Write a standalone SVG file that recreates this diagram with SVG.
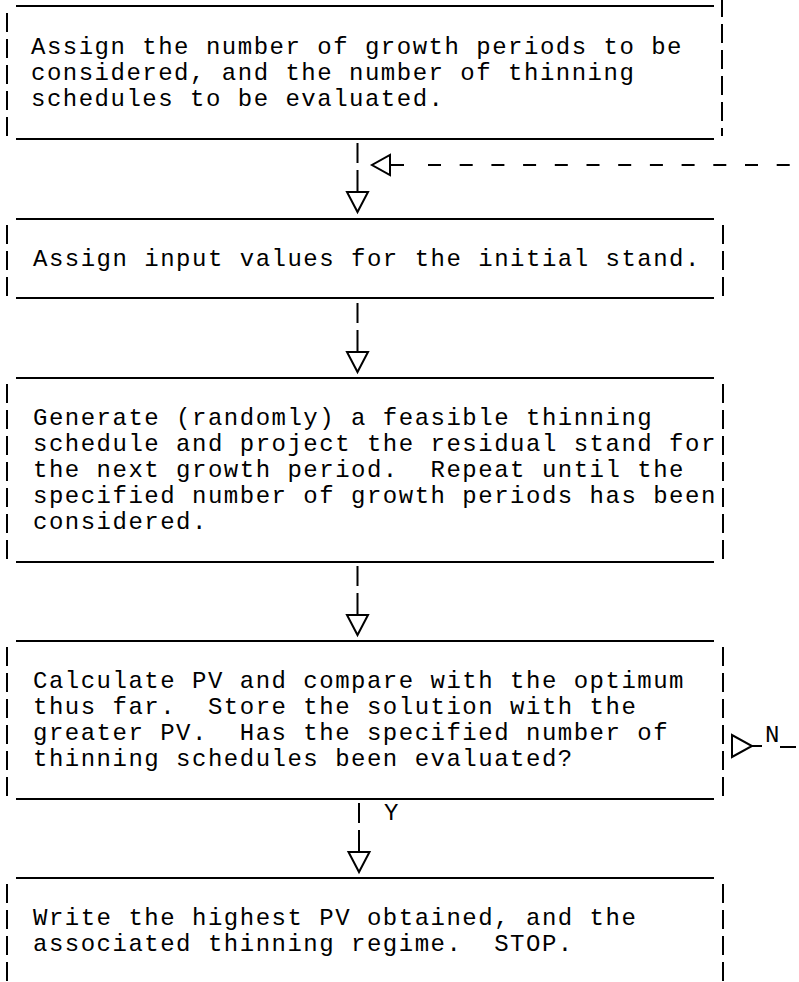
<svg xmlns="http://www.w3.org/2000/svg" xmlns:xlink="http://www.w3.org/1999/xlink" width="799" height="982" viewBox="0 0 799 982">
  <style>
    .rule { stroke: #000; stroke-width: 2; fill: none; }
    .bar { stroke: #000; stroke-width: 2; fill: none; stroke-dasharray: 19 7; }
    .wire { stroke: #000; stroke-width: 2; fill: none; }
    .dash { stroke: #000; stroke-width: 2; fill: none; stroke-dasharray: 13 18.7; }
    text { font-family: "Liberation Mono", "DejaVu Sans Mono", monospace; font-size: 24px; letter-spacing: 1.5px; fill: #000; white-space: pre; }
  </style>
  <defs>
    <!-- open triangular arrowheads, drawn from the base -->
    <path id="tri-down" d="M-10.5 0H10.5L0 20Z" fill="#fff" stroke="#000" stroke-width="2" stroke-linejoin="miter"/>
    <path id="tri-left" d="M0 -10V10L-18 0Z" fill="#fff" stroke="#000" stroke-width="2"/>
    <path id="tri-right" d="M0 -11V11L20 0Z" fill="#fff" stroke="#000" stroke-width="2"/>
  </defs>
  <rect width="799" height="982" fill="#fff"/>

  <g id="box-setup">
    <path class="rule" d="M16 6H714M16 139H714"/>
    <path class="bar" d="M7 13V136"/>
    <path class="bar" d="M722 -2V136"/>
    <text xml:space="preserve" x="31" y="54">Assign the number of growth periods to be</text>
    <text xml:space="preserve" x="31" y="80">considered, and the number of thinning</text>
    <text xml:space="preserve" x="31" y="106">schedules to be evaluated.</text>
  </g>

  <g id="box-input">
    <path class="rule" d="M16 219H714M16 298H714"/>
    <path class="bar" d="M7 225V297"/>
    <path class="bar" d="M723 225V297"/>
    <text xml:space="preserve" x="33" y="266">Assign input values for the initial stand.</text>
  </g>

  <g id="box-generate">
    <path class="rule" d="M16 378H714M16 562H714"/>
    <path class="bar" d="M7 384V560"/>
    <path class="bar" d="M723 384V560"/>
    <text xml:space="preserve" x="33" y="425">Generate (randomly) a feasible thinning</text>
    <text xml:space="preserve" x="33" y="451">schedule and project the residual stand for</text>
    <text xml:space="preserve" x="33" y="477">the next growth period.  Repeat until the</text>
    <text xml:space="preserve" x="33" y="503">specified number of growth periods has been</text>
    <text xml:space="preserve" x="33" y="529">considered.</text>
  </g>

  <g id="box-evaluate">
    <path class="rule" d="M16 641H714M16 799H714"/>
    <path class="bar" d="M7 647V796"/>
    <path class="bar" d="M723 647V796"/>
    <text xml:space="preserve" x="33" y="688">Calculate PV and compare with the optimum</text>
    <text xml:space="preserve" x="33" y="714">thus far.  Store the solution with the</text>
    <text xml:space="preserve" x="33" y="740">greater PV.  Has the specified number of</text>
    <text xml:space="preserve" x="33" y="766">thinning schedules been evaluated?</text>
  </g>

  <g id="box-output">
    <path class="rule" d="M16 878H714"/>
    <path class="bar" d="M7 884V984"/>
    <path class="bar" d="M723 884V984"/>
    <text xml:space="preserve" x="33" y="925">Write the highest PV obtained, and the</text>
    <text xml:space="preserve" x="33" y="951">associated thinning regime.  STOP.</text>
  </g>

  <g id="connectors">
    <!-- setup to input -->
    <path class="wire" d="M357.5 143V163M357.5 170V192"/>
    <use xlink:href="#tri-down" x="357.5" y="192"/>
    <!-- loop return from the decision -->
    <use xlink:href="#tri-left" x="390" y="165"/>
    <path class="wire" d="M390 165H404"/>
    <path class="dash" d="M428 165H799"/>
    <!-- input to generate -->
    <path class="wire" d="M357.5 303V323M357.5 330V352"/>
    <use xlink:href="#tri-down" x="357.5" y="352"/>
    <!-- generate to evaluate -->
    <path class="wire" d="M357.5 566V586M357.5 593V615"/>
    <use xlink:href="#tri-down" x="357.5" y="615"/>
    <!-- evaluate: yes branch to output -->
    <path class="wire" d="M359 803V823M359 830V852"/>
    <use xlink:href="#tri-down" x="359" y="852"/>
    <text x="384" y="820">Y</text>
    <!-- evaluate: no branch back to input -->
    <use xlink:href="#tri-right" x="732" y="746"/>
    <path class="wire" d="M752 746H762M780 747H796"/>
    <text x="765" y="742">N</text>
  </g>
</svg>
